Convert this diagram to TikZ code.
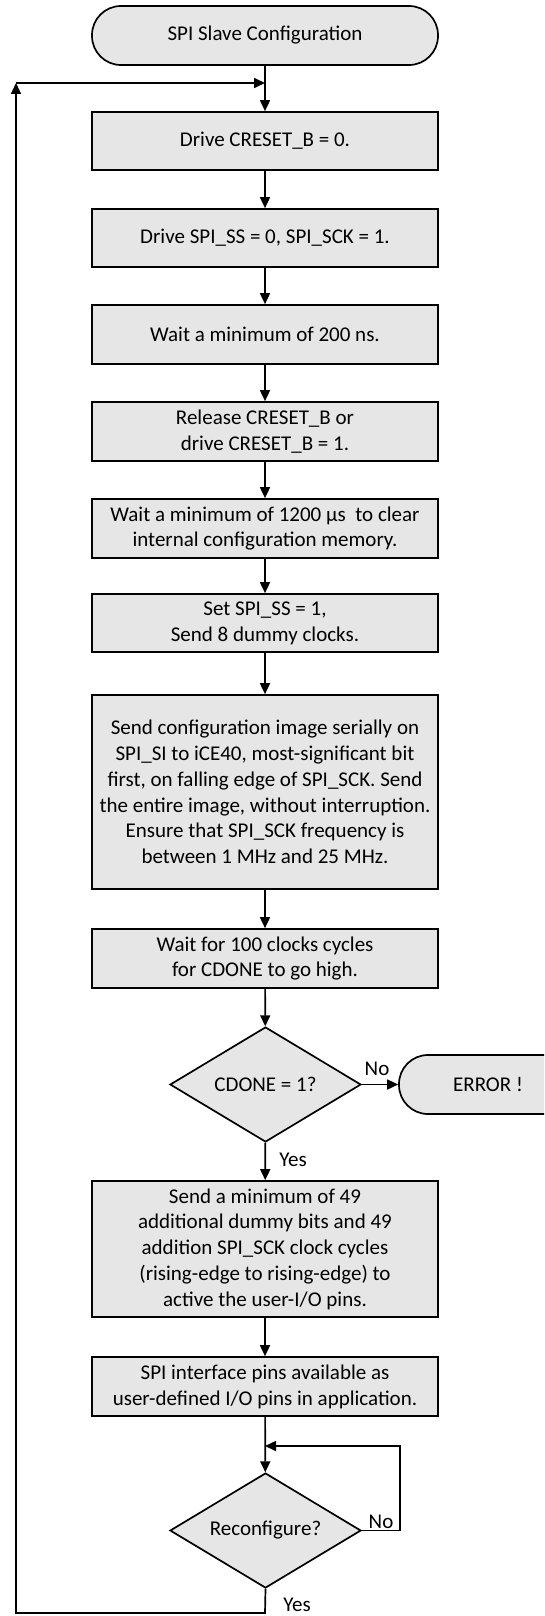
\documentclass[tikz,border=0pt]{standalone}
\usepackage{fontspec}
\setmainfont{Carlito}
\usetikzlibrary{arrows.meta,shapes.geometric}
\definecolor{boxfill}{RGB}{230,230,230}
\begin{document}
\begin{tikzpicture}[x=1pt,y=-1pt,
  every node/.style={font=\fontsize{21}{25.8}\selectfont},
  procbox/.style={draw,line width=1.7pt,fill=boxfill,minimum width=346pt,align=center,inner sep=0pt},
  termbox/.style={draw,line width=1.7pt,fill=boxfill,rounded corners=29pt,minimum height=59pt,inner sep=0pt},
  decbox/.style={draw,line width=1.7pt,fill=boxfill,diamond,aspect=1.66,minimum width=191pt,minimum height=115pt,inner sep=0pt},
  lbl/.style={inner sep=0pt},
  arr/.style={line width=1.7pt,-{Triangle[length=11pt,width=10pt]}},
  ln/.style={line width=1.7pt}]
\useasboundingbox (0,0) rectangle (544,1616);
\clip (0,0) rectangle (544,1616);
\node[termbox,minimum width=346pt] (start) at (265,35.5) {SPI Slave Configuration};
\node[procbox,minimum height=58pt] (b1) at (265,141) {Drive CRESET\_B = 0.};
\node[procbox,minimum height=58pt] (b2) at (265,238) {Drive SPI\_SS = 0, SPI\_SCK = 1.};
\node[procbox,minimum height=59pt] (b3) at (265,334.5) {Wait a minimum of 200 ns.};
\node[procbox,minimum height=59pt] (b4) at (265,431.5) {Release CRESET\_B or\\drive CRESET\_B = 1.};
\node[procbox,minimum height=59pt] (b5) at (265,528.5) {Wait a minimum of 1200 µs\ \ to clear\\internal configuration memory.};
\node[procbox,minimum height=58pt] (b6) at (265,623) {Set SPI\_SS = 1,\\Send 8 dummy clocks.};
\node[procbox,minimum height=194pt] (b7) at (265,792) {Send configuration image serially on\\SPI\_SI to iCE40, most-significant bit\\first, on falling edge of SPI\_SCK. Send\\the entire image, without interruption.\\Ensure that SPI\_SCK frequency is\\between 1 MHz and 25 MHz.};
\node[procbox,minimum height=59pt] (b8) at (265,958.5) {Wait for 100 clocks cycles\\for CDONE to go high.};
\node[decbox] (d1) at (265.5,1084.5) {CDONE = 1?};
\node[termbox,minimum width=178pt] (err) at (488,1084.5) {ERROR !};
\node[procbox,minimum height=136pt] (b9) at (265,1249) {Send a minimum of 49\\additional dummy bits and 49\\addition SPI\_SCK clock cycles\\(rising-edge to rising-edge) to\\active the user-I/O pins.};
\node[procbox,minimum height=59pt] (b10) at (265,1386.5) {SPI interface pins available as\\user-defined I/O pins in application.};
\node[decbox] (d2) at (265.5,1530.5) {Reconfigure?};
\coordinate (j1) at (265,83);
\coordinate (c1) at (16,83);
\coordinate (c2) at (265,1613);
\coordinate (j2) at (265,1446);
\coordinate (c3) at (400,1530.5);
\draw[arr] (start) -- (b1);
\draw[arr] (b1) -- (b2);
\draw[arr] (b2) -- (b3);
\draw[arr] (b3) -- (b4);
\draw[arr] (b4) -- (b5);
\draw[arr] (b5) -- (b6);
\draw[arr] (b6) -- (b7);
\draw[arr] (b7) -- (b8);
\draw[arr] (b8) -- (d1);
\draw[arr] (d1) -- (err);
\draw[arr] (d1) -- (b9);
\draw[arr] (b9) -- (b10);
\draw[arr] (b10) -- (d2);
\draw[arr] (d2.east) -- (c3) |- (j2);
\draw[arr] (d2.south) -- (c2) -| (c1);
\draw[arr] (c1) -- (j1);
\node[lbl] (no1) at (377,1069) {No};
\node[lbl] (yes1) at (293,1160) {Yes};
\node[lbl] (no2) at (381,1522) {No};
\node[lbl] (yes2) at (297,1605) {Yes};
\end{tikzpicture}
\end{document}
